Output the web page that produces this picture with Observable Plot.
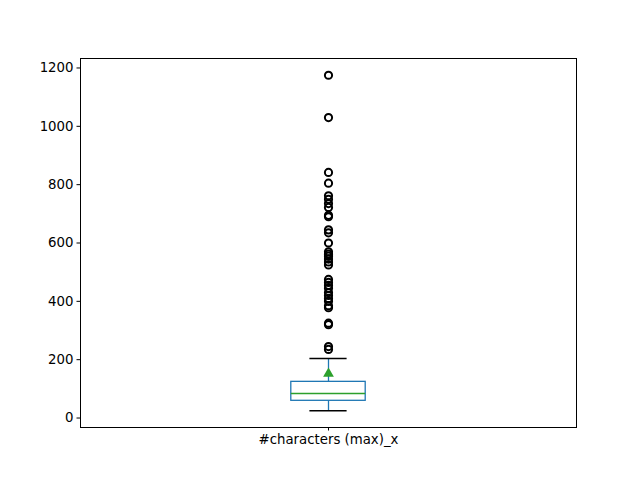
<!DOCTYPE html>
<html><head><meta charset="utf-8">
<script src="https://cdn.jsdelivr.net/npm/d3@7"></script>
<script src="https://cdn.jsdelivr.net/npm/@observablehq/plot@0.6"></script>
<style>body{margin:0;background:#fff}</style>
</head><body><div id="chart"></div>
<script>
const categories = ["#characters (max)_x"];
const q1 = [59];
const medians = [84];
const q3 = [124];
const whiskerLow = [25];
const whiskerHigh = [204];
const means = [152];
const outliers = [1175, 1030, 842, 805, 762, 750, 735, 722, 695, 690, 645, 635, 600, 570, 562, 555, 545, 535, 525, 475, 465, 455, 445, 430, 420, 410, 400, 385, 378, 325, 320, 245, 235];
const yTicks = [0, 200, 400, 600, 800, 1000, 1200];

const boxes = categories.map((c, i) => ({pos: i + 1, q1: q1[i], med: medians[i], q3: q3[i], lo: whiskerLow[i], hi: whiskerHigh[i], mean: means[i]}));
const fliers = outliers.map(v => ({pos: 1, v}));
const hw = 0.075, cw = 0.0375;
const C0 = "#1f77b4", C2 = "#2ca02c";

const chart = Plot.plot({
  width: 640, height: 480,
  marginLeft: 80, marginRight: 64, marginTop: 58, marginBottom: 53,
  style: {fontFamily: "DejaVu Sans", fontSize: "13.3px", color: "black", background: "white"},
  x: {domain: [0.5, 1.5]},
  y: {domain: [-32.5, 1232.5]},
  marks: [
    Plot.axisY({ticks: yTicks, tickFormat: d3.format("d"), tickSize: 3.5, tickPadding: 3.5, label: null}),
    Plot.axisX({ticks: [1], tickFormat: i => categories[i - 1], tickSize: 3.5, tickPadding: 3.5, label: null}),
    Plot.ruleX(boxes, {x: "pos", y1: "q3", y2: "hi", stroke: C0, strokeWidth: 1.3}),
    Plot.ruleX(boxes, {x: "pos", y1: "lo", y2: "q1", stroke: C0, strokeWidth: 1.3}),
    Plot.ruleY(boxes, {y: "hi", x1: d => d.pos - cw, x2: d => d.pos + cw, stroke: "black", strokeWidth: 1.3}),
    Plot.ruleY(boxes, {y: "lo", x1: d => d.pos - cw, x2: d => d.pos + cw, stroke: "black", strokeWidth: 1.3}),
    Plot.rect(boxes, {x1: d => d.pos - hw, x2: d => d.pos + hw, y1: "q1", y2: "q3", fill: "none", stroke: C0, strokeWidth: 1.3}),
    Plot.ruleY(boxes, {y: "med", x1: d => d.pos - hw, x2: d => d.pos + hw, stroke: C2, strokeWidth: 1.3}),
    Plot.dot(boxes, {x: "pos", y: "mean", symbol: "triangle", fill: C2, r: 4}),
    Plot.dot(fliers, {x: "pos", y: "v", r: 3.6, stroke: "black", strokeWidth: 2, fill: "none"}),
    Plot.frame({stroke: "black", strokeWidth: 1})
  ]
});
document.getElementById("chart").appendChild(chart);
</script></body></html>
